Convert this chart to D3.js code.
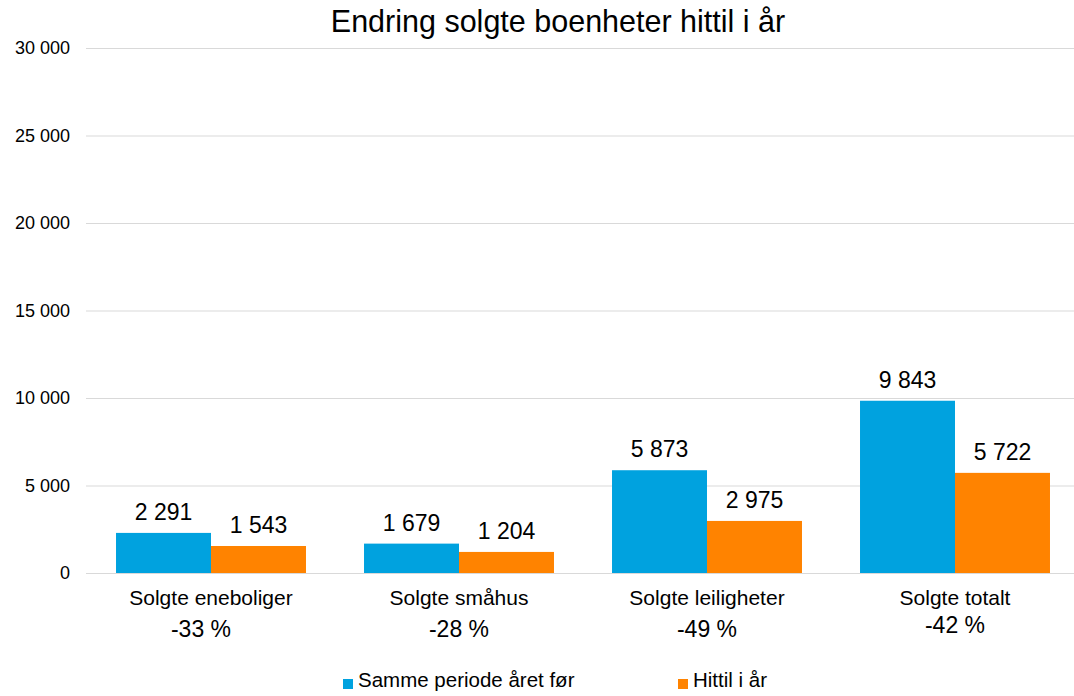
<!DOCTYPE html>
<html lang="no">
<head>
<meta charset="UTF-8" />
<title>Endring solgte boenheter hittil i år</title>
<style>
  body { margin: 0; background: #fff; }
  svg { display: block; font-family: "Liberation Sans", Arial, sans-serif; }
</style>
</head>
<body>
<div id="chart"></div>
<script src="https://d3js.org/d3.v7.min.js"></script>
<script>
// data
const categories = ['Solgte eneboliger', 'Solgte småhus', 'Solgte leiligheter', 'Solgte totalt'];
const changeLabels = ['-33 %', '-28 %', '-49 %', '-42 %'];
const seriesNames = ['Samme periode året før', 'Hittil i år'];
const priorYear = [2291, 1679, 5873, 9843];
const thisYear = [1543, 1204, 2975, 5722];
const yTicks = [0, 5000, 10000, 15000, 20000, 25000, 30000];

const colors = ['#00A2DF', '#FF8300'];
const W = 1074, H = 696;
const margin = { top: 48, right: 0, bottom: 123, left: 86 };

const fmt = v => d3.format(',')(v).replace(/,/g, ' ');

const svg = d3.select('#chart').append('svg')
  .attr('width', W).attr('height', H);

const x = d3.scaleBand()
  .domain(categories)
  .range([87, 1079])
  .paddingInner(0.234)
  .paddingOuter(0.117);

const xs = d3.scaleBand()
  .domain(seriesNames)
  .range([0, x.bandwidth()]);

const y = d3.scaleLinear()
  .domain([0, 30000])
  .range([H - margin.bottom, margin.top]);

// title
svg.append('text')
  .attr('x', 558).attr('y', 32)
  .attr('text-anchor', 'middle')
  .attr('font-size', 30.5)
  .text('Endring solgte boenheter hittil i år');

// grid + y axis
const yAxis = d3.axisLeft(y)
  .tickValues(yTicks)
  .tickFormat(fmt)
  .tickSize(-(W - margin.left - margin.right))
  .tickPadding(16);

const ga = svg.append('g')
  .attr('transform', `translate(${margin.left},0)`)
  .call(yAxis);
ga.select('.domain').remove();
ga.selectAll('.tick line').attr('stroke', '#d9d9d9');
ga.selectAll('.tick text')
  .attr('font-size', 18)
  .attr('fill', '#000');

// bars
const rows = categories.map((c, i) => ({ cat: c, vals: [priorYear[i], thisYear[i]] }));

const groups = svg.append('g').selectAll('g')
  .data(rows)
  .join('g')
  .attr('transform', d => `translate(${x(d.cat)},0)`);

groups.selectAll('rect')
  .data(d => d.vals.map((v, j) => ({ v, s: seriesNames[j], j })))
  .join('rect')
  .attr('x', d => xs(d.s))
  .attr('width', xs.bandwidth())
  .attr('y', d => y(d.v))
  .attr('height', d => y(0) - y(d.v))
  .attr('fill', d => colors[d.j]);

groups.selectAll('text.val')
  .data(d => d.vals.map((v, j) => ({ v, s: seriesNames[j] })))
  .join('text')
  .attr('class', 'val')
  .attr('x', d => xs(d.s) + xs.bandwidth() / 2)
  .attr('y', d => y(d.v) - 13)
  .attr('text-anchor', 'middle')
  .attr('font-size', 23)
  .text(d => fmt(d.v));

// category labels and change
svg.append('g').selectAll('text')
  .data(categories)
  .join('text')
  .attr('x', d => x(d) + x.bandwidth() / 2)
  .attr('y', y(0) + 32)
  .attr('text-anchor', 'middle')
  .attr('font-size', 21)
  .text(d => d);

svg.append('g').selectAll('text')
  .data(changeLabels)
  .join('text')
  .attr('x', (d, i) => x(categories[i]) + x.bandwidth() / 2 - (i === 0 ? 10 : 0))
  .attr('y', (d, i) => y(0) + (i === 3 ? 60 : 64))
  .attr('text-anchor', 'middle')
  .attr('font-size', 23)
  .text(d => d);

// legend
const legendX = [343, 678];
const lg = svg.append('g').selectAll('g')
  .data(seriesNames)
  .join('g')
  .attr('transform', (d, i) => `translate(${legendX[i]},687)`);
lg.append('rect')
  .attr('x', 0).attr('y', -8)
  .attr('width', 10).attr('height', 10)
  .attr('fill', (d, i) => colors[i]);
lg.append('text')
  .attr('x', 15).attr('y', 0)
  .attr('font-size', 20.5)
  .text(d => d);
</script>
</body>
</html>
